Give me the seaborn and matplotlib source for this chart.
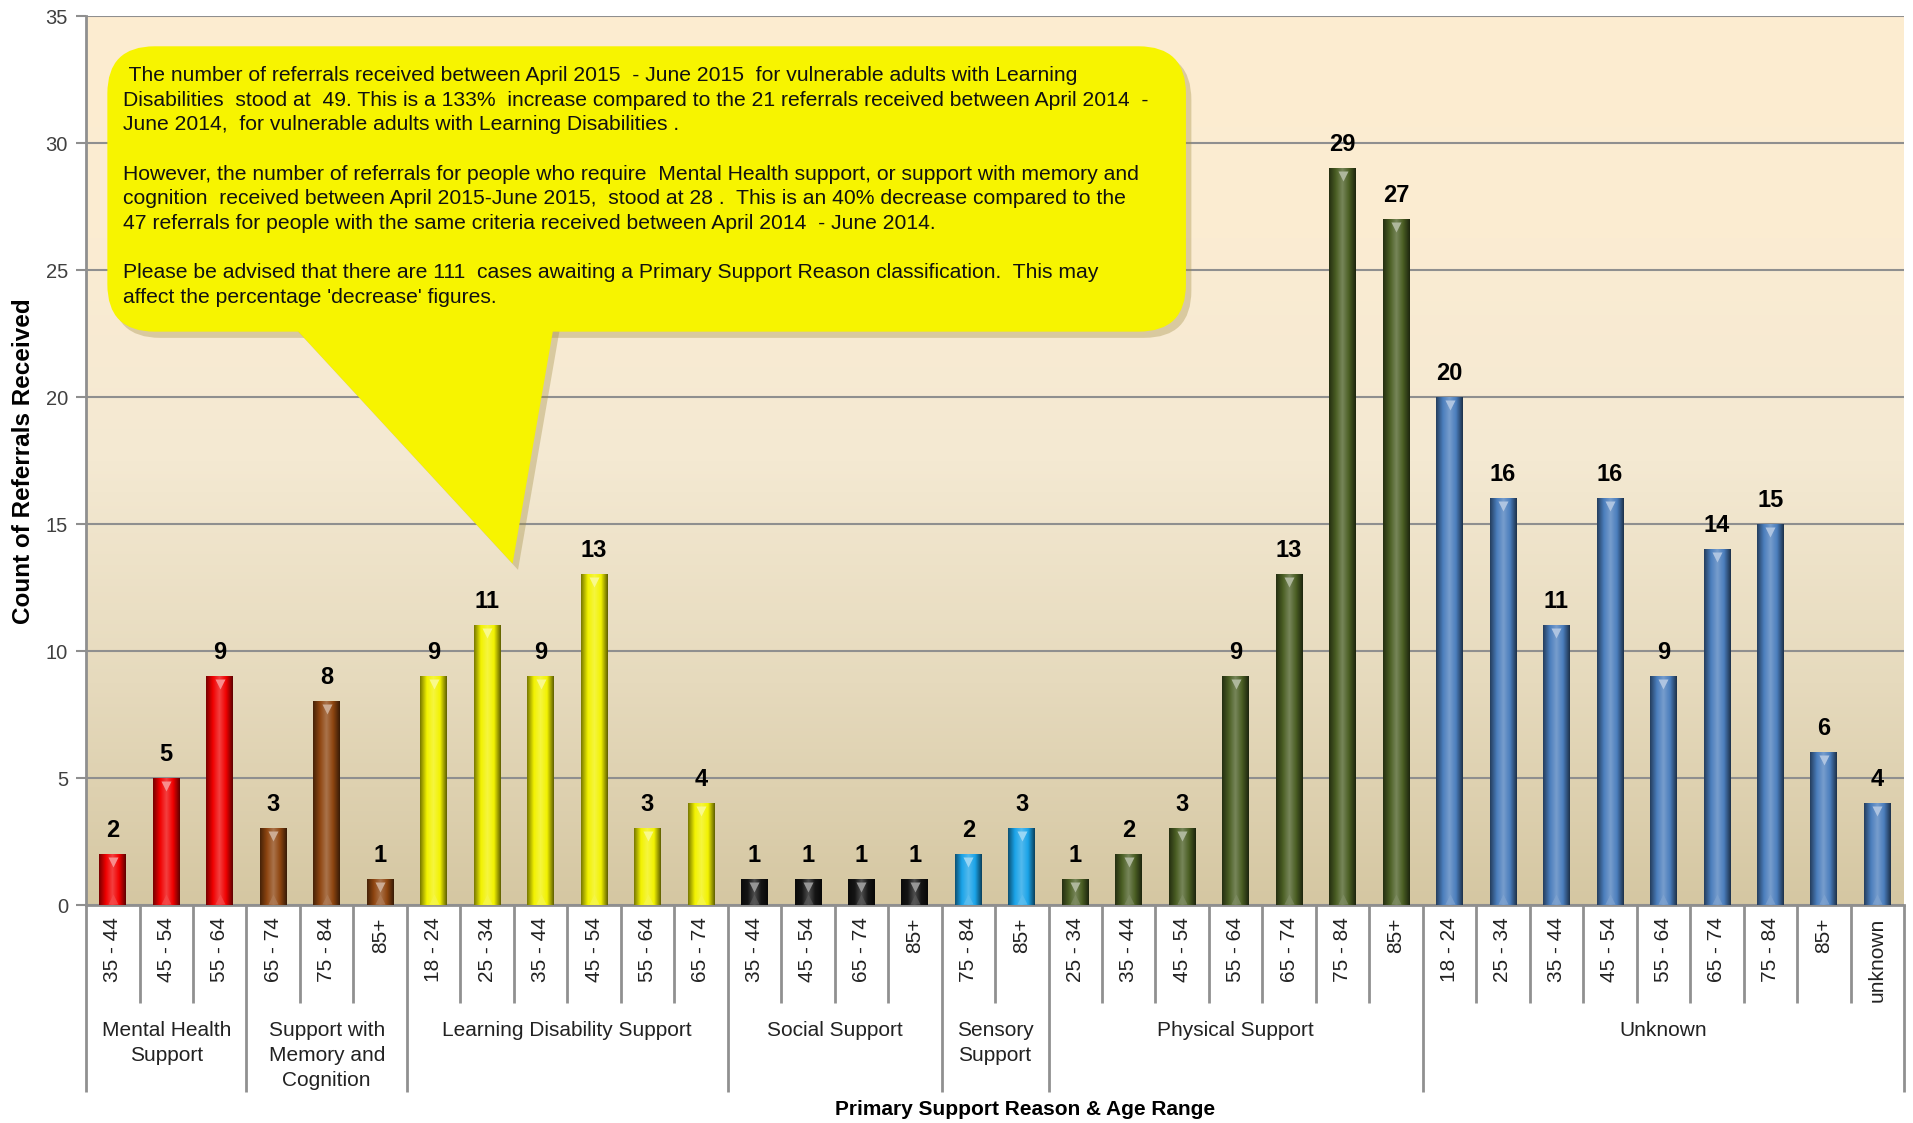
#!/usr/bin/env python3
import matplotlib
matplotlib.use("Agg")
import numpy as np
import pandas as pd
import matplotlib.pyplot as plt
import seaborn as sns
from matplotlib.colors import LinearSegmentedColormap, to_rgb
from matplotlib.patches import FancyBboxPatch, Polygon
from matplotlib.transforms import blended_transform_factory

# Referrals by primary support reason and age range
mental_health_ages = ["35 - 44", "45 - 54", "55 - 64"]
mental_health_counts = [2, 5, 9]
memory_ages = ["65 - 74", "75 - 84", "85+"]
memory_counts = [3, 8, 1]
learning_ages = ["18 - 24", "25 - 34", "35 - 44", "45 - 54", "55 - 64", "65 - 74"]
learning_counts = [9, 11, 9, 13, 3, 4]
social_ages = ["35 - 44", "45 - 54", "65 - 74", "85+"]
social_counts = [1, 1, 1, 1]
sensory_ages = ["75 - 84", "85+"]
sensory_counts = [2, 3]
physical_ages = ["25 - 34", "35 - 44", "45 - 54", "55 - 64", "65 - 74", "75 - 84", "85+"]
physical_counts = [1, 2, 3, 9, 13, 29, 27]
unknown_ages = ["18 - 24", "25 - 34", "35 - 44", "45 - 54", "55 - 64", "65 - 74",
                "75 - 84", "85+", "unknown"]
unknown_counts = [20, 16, 11, 16, 9, 14, 15, 6, 4]

group_names = ["Mental Health\nSupport", "Support with\nMemory and\nCognition",
               "Learning Disability Support", "Social Support", "Sensory\nSupport",
               "Physical Support", "Unknown"]
group_colors = ["#f00000", "#8e4510", "#f2f200", "#151515", "#1aa3e8", "#4a5e23", "#4a7dbc"]

callout_text = (
    " The number of referrals received between April 2015  - June 2015  for vulnerable adults with Learning\n"
    "Disabilities  stood at  49. This is a 133%  increase compared to the 21 referrals received between April 2014  -\n"
    "June 2014,  for vulnerable adults with Learning Disabilities .\n"
    "\n"
    "However, the number of referrals for people who require  Mental Health support, or support with memory and\n"
    "cognition  received between April 2015-June 2015,  stood at 28 .  This is an 40% decrease compared to the\n"
    "47 referrals for people with the same criteria received between April 2014  - June 2014.\n"
    "\n"
    "Please be advised that there are 111  cases awaiting a Primary Support Reason classification.  This may\n"
    "affect the percentage 'decrease' figures."
)


def shade(color, f):
    # f < 0 darkens towards black, f > 0 lightens towards white
    c = np.array(to_rgb(color))
    if f < 0:
        return tuple(c * (1 + f))
    return tuple(c + (1 - c) * f)


def main():
    plt.rcParams["font.family"] = ["Liberation Sans", "DejaVu Sans"]

    age_lists = [mental_health_ages, memory_ages, learning_ages, social_ages,
                 sensory_ages, physical_ages, unknown_ages]
    count_lists = [mental_health_counts, memory_counts, learning_counts, social_counts,
                   sensory_counts, physical_counts, unknown_counts]

    rows = []
    for gname, ages, counts in zip(group_names, age_lists, count_lists):
        for age, cnt in zip(ages, counts):
            rows.append({"key": gname + "|" + age, "age": age, "group": gname, "count": cnt})
    df = pd.DataFrame(rows)
    palette = dict(zip(group_names, group_colors))

    fig = plt.figure(figsize=(19.13, 11.23), dpi=100)
    ax = fig.add_axes([0.045, 0.1941, 0.9503, 0.7916])

    # background gradient of the plot area
    bg = LinearSegmentedColormap.from_list("bg", ["#d5c7a2", "#e6dabd", "#f4e9d2", "#fbecd2", "#fdecd0"])
    ax.imshow(np.linspace(0, 1, 256).reshape(-1, 1), cmap=bg, origin="lower",
              extent=[0, 1, 0, 1], transform=ax.transAxes, aspect="auto", zorder=0)

    sns.barplot(data=df, x="key", y="count", hue="group", palette=palette,
                order=list(df["key"]), hue_order=group_names, dodge=False,
                width=0.5, saturation=1, legend=False, ax=ax, zorder=3)

    # cylinder-like shading on every bar
    grad = np.linspace(0, 1, 64).reshape(1, -1)
    for p in list(ax.patches):
        x0, w, h = p.get_x(), p.get_width(), p.get_height()
        if h <= 0:
            continue
        base = p.get_facecolor()[:3]
        cmap = LinearSegmentedColormap.from_list(
            "bar", [shade(base, -0.5), base, shade(base, 0.25), base, shade(base, -0.6)])
        ax.imshow(grad, cmap=cmap, extent=[x0, x0 + w, 0, h], aspect="auto", zorder=3.5)
        ax.plot(x0 + w / 2, h - 0.3, marker="v", ms=7, color=shade(base, 0.55),
                mec="none", zorder=4)
        ax.plot(x0 + w / 2, 0.25, marker="^", ms=7, color=shade(base, 0.3),
                mec="none", alpha=0.7, zorder=4)

    for cont in ax.containers:
        ax.bar_label(cont, padding=9, fontsize=17, fontweight="bold", zorder=6)

    ax.set_xlim(-0.5, len(df) - 0.5)
    ax.set_ylim(0, 35)
    ax.set_yticks(range(0, 36, 5))
    ax.yaxis.grid(True, color="#8f8f8f", lw=1.5)
    ax.set_axisbelow(True)
    ax.set_xticks(range(len(df)))
    ax.set_xticklabels(df["age"], rotation=90, va="top")
    ax.tick_params(axis="x", length=0, pad=9, labelsize=15, labelcolor="#222222")
    ax.tick_params(axis="y", length=7, width=1.5, color="#8f8f8f", labelsize=14.5,
                   labelcolor="#404040", pad=6)
    for s in ["top", "right"]:
        ax.spines[s].set_visible(False)
    for s in ["left", "bottom"]:
        ax.spines[s].set_color("#8f8f8f")
        ax.spines[s].set_linewidth(2)
    ax.set_xlabel("")
    ax.set_ylabel("")

    # category and group separators below the axis
    trans = blended_transform_factory(ax.transData, ax.transAxes)
    sizes = [len(a) for a in age_lists]
    bounds = np.concatenate([[0], np.cumsum(sizes)])
    inner = [i - 0.5 for i in range(len(df) + 1) if i not in bounds]
    ax.vlines(inner, -0.11, 0, transform=trans, colors="#909090", lw=2, clip_on=False)
    ax.vlines(bounds - 0.5, -0.21, 0, transform=trans, colors="#909090", lw=2, clip_on=False)
    for gname, b0, b1 in zip(group_names, bounds[:-1], bounds[1:]):
        ax.text((b0 + b1 - 1) / 2, -0.131, gname, transform=trans, ha="center", va="top",
                fontsize=15, linespacing=1.38, color="#222222")

    # callout box with tail
    aspect = 1818 / 889
    for dx, dy, col, al, z in [(0.003, -0.007, "#a08c40", 0.35, 9), (0, 0, "#f7f400", 1, 10)]:
        box = FancyBboxPatch((0.0117 + dx, 0.645 + dy), 0.5933, 0.321,
                             boxstyle="round,pad=0,rounding_size=0.026",
                             mutation_aspect=aspect, transform=ax.transAxes,
                             facecolor=col, edgecolor="none", alpha=al, zorder=z)
        ax.add_patch(box)
        tail = Polygon([(0.110 + dx, 0.66 + dy), (0.258 + dx, 0.66 + dy), (0.2346 + dx, 0.384 + dy)],
                       closed=True, transform=ax.transAxes, facecolor=col, edgecolor="none",
                       alpha=al, zorder=z)
        ax.add_patch(tail)
    ax.text(0.0205, 0.944, callout_text, transform=ax.transAxes, ha="left", va="top",
            fontsize=15.2, linespacing=1.38, zorder=11, color="#111111")

    fig.text(24 / 1913, 0.589, "Count of Referrals Received", rotation=90, fontsize=17.5,
             fontweight="bold", ha="center", va="center")
    fig.text(0.536, 0.0116, "Primary Support Reason & Age Range", fontsize=15,
             fontweight="bold", ha="center", va="center")

    fig.savefig("out.png", dpi=100)


if __name__ == "__main__":
    main()
